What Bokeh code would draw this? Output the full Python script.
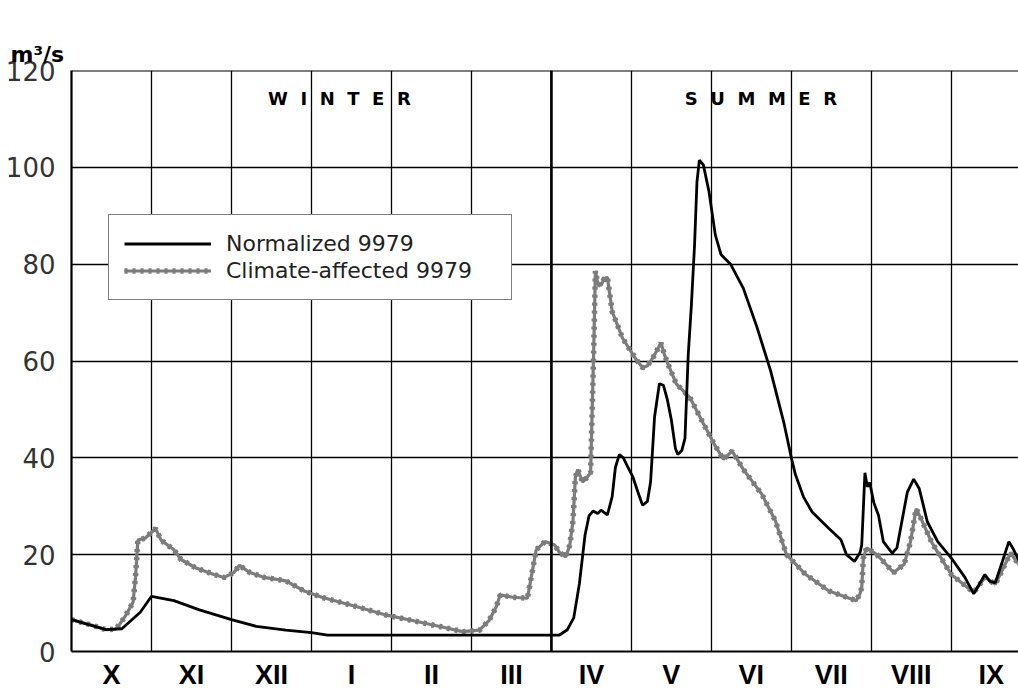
from bokeh.plotting import figure
from bokeh.models import FixedTicker, Span, Label, Legend, LegendItem
from bokeh.embed import file_html
from bokeh.resources import INLINE

# --- data (x = months since start of October, y = discharge m3/s) ---
month_labels = ["X", "XI", "XII", "I", "II", "III", "IV", "V", "VI", "VII", "VIII", "IX"]
y_ticks = [0, 20, 40, 60, 80, 100, 120]

norm_month = [0, 0.43, 0.63, 0.86, 1.0, 1.28, 1.6, 2.0, 2.31, 2.68, 3.0, 3.2, 6.1,
              6.2, 6.28, 6.35, 6.42, 6.47, 6.52, 6.58, 6.62, 6.7, 6.76, 6.8, 6.85, 6.9,
              6.95, 7.02, 7.08, 7.14, 7.2, 7.24, 7.29, 7.35, 7.4, 7.45, 7.5, 7.55, 7.58,
              7.63, 7.67, 7.71, 7.75, 7.79, 7.82, 7.85, 7.9, 7.97, 8.05, 8.12, 8.24, 8.4,
              8.57, 8.74, 8.91, 9.0, 9.05, 9.15, 9.26, 9.47, 9.62, 9.69, 9.79, 9.86, 9.88,
              9.92, 9.95, 9.98, 10.03, 10.09, 10.15, 10.26, 10.32, 10.45, 10.53, 10.6,
              10.7, 10.83, 11.0, 11.17, 11.28, 11.42, 11.48, 11.55, 11.72, 11.78, 11.91]
norm_flow = [6.6, 4.5, 4.7, 8.1, 11.4, 10.5, 8.6, 6.6, 5.2, 4.4, 3.9, 3.4, 3.4,
             4.5, 7, 14, 24, 28, 29, 28.5, 29.2, 28.2, 32, 38, 40.7, 40,
             38.3, 36, 33, 30.2, 31, 35, 48.5, 55.3, 55, 52, 47.8, 42, 40.7,
             41.5, 44, 61, 71.5, 84, 97, 101.5, 100.5, 95, 86, 82, 80, 75,
             67, 58, 47, 40, 36.6, 32, 28.8, 25.4, 23.1, 20, 18.6, 20.5, 22,
             36.9, 34, 34.9, 30.8, 28.1, 22.7, 20.3, 21.4, 32.9, 35.6, 33.6,
             26.8, 22.7, 19.3, 15.3, 11.9, 15.9, 14.5, 14.2, 22.7, 21, 16.6]

clim_month = [0, 0.3, 0.43, 0.55, 0.61, 0.68, 0.77, 0.8, 0.83, 0.92, 1.05, 1.12, 1.28,
              1.37, 1.55, 1.78, 1.91, 2.03, 2.1, 2.23, 2.41, 2.68, 2.91, 3.13, 3.58,
              3.94, 4.26, 4.62, 4.89, 5.1, 5.22, 5.31, 5.36, 5.52, 5.7, 5.74, 5.81,
              5.92, 6.04, 6.1, 6.18, 6.23, 6.27, 6.3, 6.33, 6.39, 6.45, 6.49, 6.51,
              6.53, 6.55, 6.58, 6.62, 6.66, 6.7, 6.76, 6.89, 7.06, 7.14, 7.2, 7.27,
              7.37, 7.42, 7.46, 7.56, 7.73, 7.9, 8.03, 8.15, 8.26, 8.4, 8.63, 8.8,
              8.94, 9.18, 9.47, 9.81, 9.86, 9.88, 9.9, 9.94, 10.07, 10.28, 10.41,
              10.49, 10.56, 10.62, 10.75, 10.92, 11.0, 11.28, 11.42, 11.55, 11.74, 11.91]
clim_flow = [6.6, 5.2, 4.5, 4.6, 5.8, 7.5, 10.2, 15.3, 23, 23.4, 25.4, 23, 21,
             19, 17.3, 15.9, 15.3, 16.3, 17.8, 16.3, 15.3, 14.6, 12.5, 11.2, 9.2,
             7.5, 6.4, 5.1, 4.1, 4.4, 6.4, 9.2, 11.7, 11.2, 11, 14.6, 21,
             22.7, 22, 20.5, 19.5, 22, 27, 36, 37.6, 35, 36, 37, 50,
             63, 78.6, 76, 75.6, 77, 77.3, 70.2, 64.7, 60.3, 58.6, 59, 60.7,
             63.7, 61, 59.3, 55.3, 52.5, 47.1, 43, 39.7, 41.4, 37.6, 32.5, 27,
             20, 15.9, 12.5, 10.5, 12, 13.2, 19.3, 21.4, 20, 16.3, 18,
             22.7, 29.5, 27.5, 22.7, 18, 15.9, 12.2, 15.3, 13.9, 20.3, 16.6]

season_names = ["W\u2007I\u2007N\u2007T\u2007E\u2007R", "S\u2007U\u2007M\u2007M\u2007E\u2007R"]
season_pos = [3.35, 8.62]

# --- figure ---
p = figure(width=1018, height=692, x_range=(0, 11.84), y_range=(0, 120),
           output_backend="svg", toolbar_location=None,
           min_border_left=71, min_border_right=0, min_border_top=70, min_border_bottom=41)
p.outline_line_color = None
p.background_fill_color = "white"

p.title.text = "m\u00b3/s"
p.title.align = "left"
p.title.offset = -61
p.title.standoff = 8
p.title.text_font = "DejaVu Sans"
p.title.text_font_style = "bold"
p.title.text_font_size = "22px"
p.title.text_color = "black"

# grid
p.xgrid.ticker = FixedTicker(ticks=list(range(13)))
p.ygrid.ticker = FixedTicker(ticks=[20, 40, 60, 80, 100])
for g in (p.xgrid, p.ygrid):
    g.grid_line_color = "black"
    g.grid_line_width = 1.3
    g.grid_line_alpha = 1.0

# axes
p.xaxis.ticker = FixedTicker(ticks=[i + 0.5 for i in range(12)])
p.xaxis.major_label_overrides = {i + 0.5: lab for i, lab in enumerate(month_labels)}
p.xaxis.major_label_text_font = "Liberation Sans"
p.xaxis.major_label_text_font_style = "bold"
p.xaxis.major_label_text_font_size = "27px"
p.xaxis.major_label_text_color = "black"
p.xaxis.major_label_standoff = 2
p.yaxis.ticker = FixedTicker(ticks=y_ticks)
p.yaxis.major_label_text_font = "DejaVu Sans"
p.yaxis.major_label_text_font_size = "26px"
p.yaxis.major_label_text_color = "#333333"
p.yaxis.major_label_standoff = 10
for ax in (p.xaxis, p.yaxis):
    ax.axis_line_color = "black"
    ax.axis_line_width = 2.2
    ax.major_tick_line_color = None
    ax.minor_tick_line_color = None

p.add_layout(Span(location=6, dimension="height", line_color="black", line_width=2.6))
p.add_layout(Span(location=120, dimension="width", line_color="black", line_width=2.2))

# series
r_clim_a = p.line(clim_month, clim_flow, line_color="#7c7c7c", line_width=3.2)
r_clim_b = p.line(clim_month, clim_flow, line_color="#7c7c7c", line_width=5.5, line_dash="3 5")
r_norm = p.line(norm_month, norm_flow, line_color="black", line_width=2.8)

legend = Legend(items=[LegendItem(label="Normalized 9979", renderers=[r_norm]),
                       LegendItem(label="Climate-affected 9979", renderers=[r_clim_a, r_clim_b])],
                location=(37, 351))
legend.border_line_color = "black"
legend.border_line_width = 1.5
legend.background_fill_alpha = 1
legend.padding = 15
legend.spacing = 0
legend.margin = 0
legend.glyph_width = 87
legend.glyph_height = 27
legend.label_height = 27
legend.label_width = 270
legend.label_standoff = 15
legend.label_text_font = "DejaVu Sans"
legend.label_text_font_size = "22px"
legend.label_text_color = "#222222"
p.add_layout(legend)

for name, pos in zip(season_names, season_pos):
    p.add_layout(Label(x=pos, y=114.3, text=name, text_align="center", text_baseline="middle",
                       text_font="DejaVu Sans", text_font_style="bold", text_font_size="18px",
                       text_color="black"))

open("out.html", "w").write(file_html(p, INLINE))
